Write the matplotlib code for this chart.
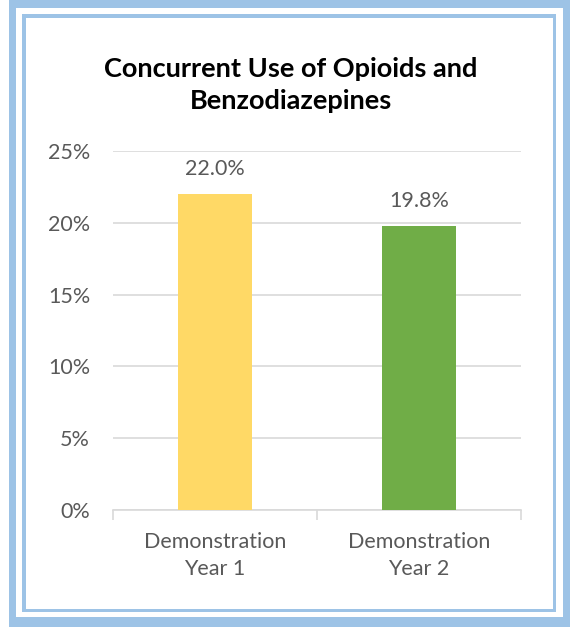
import matplotlib.pyplot as plt
from matplotlib.patches import Rectangle
from matplotlib.ticker import PercentFormatter

categories = ['Demonstration\nYear 1', 'Demonstration\nYear 2']
values = [0.220, 0.198]
labels = ['22.0%', '19.8%']
colors = ['#FFD966', '#70AD47']
yticks = [0, 0.05, 0.10, 0.15, 0.20, 0.25]

plt.rcParams['font.family'] = ['Lato', 'DejaVu Sans']
text_color = '#595959'
W, H = 570, 627

fig = plt.figure(figsize=(5.7, 6.27), dpi=100)

def px_rect(x0, y0, x1, y1, **kw):
    # rectangle given in pixel coords from top-left
    fig.patches.append(Rectangle((x0 / W, 1 - y1 / H), (x1 - x0) / W, (y1 - y0) / H,
                                 transform=fig.transFigure, zorder=-5, **kw))

blue = '#9DC3E6'
# outer thick frame
px_rect(9, 0, 570, 627, facecolor=blue, edgecolor='none')
px_rect(16, 8, 563, 617, facecolor='white', edgecolor='none')
# inner thin frame
px_rect(22, 14, 556, 612, facecolor=blue, edgecolor='none')
px_rect(26, 18, 553, 609, facecolor='white', edgecolor='none')

ax = fig.add_axes([113 / W, 1 - 510 / H, (521 - 113) / W, (510 - 151) / H])
ax.set_facecolor('none')

x = range(len(categories))
bars = ax.bar(x, values, width=0.36, color=colors, zorder=3)
for b, lab in zip(bars, labels):
    ax.annotate(lab, (b.get_x() + b.get_width() / 2, b.get_height()),
                xytext=(0, 18), textcoords='offset points', ha='center', va='center',
                fontsize=15.5, color=text_color)

ax.set_xlim(-0.5, 1.5)
ax.set_ylim(0, 0.25)
ax.set_yticks(yticks)
ax.yaxis.set_major_formatter(PercentFormatter(1.0, decimals=0))
ax.grid(axis='y', color='#D9D9D9', linewidth=1.2, zorder=0)
ax.set_xticks([-0.5, 0.5, 1.5])
ax.set_xticklabels([])
ax.set_xticks([0, 1], minor=True)
ax.set_xticklabels(categories, minor=True)
ax.tick_params(axis='x', which='major', length=7, color='#D9D9D9', width=1.2)
ax.tick_params(axis='x', which='minor', length=0, pad=16, labelsize=15.5, labelcolor=text_color)
ax.tick_params(axis='y', length=0, pad=16.5, labelsize=15.5, labelcolor=text_color)
for s in ['top', 'right', 'left']:
    ax.spines[s].set_visible(False)
ax.spines['bottom'].set_color('#D9D9D9')
ax.spines['bottom'].set_linewidth(1.2)
for t in ax.get_xticklabels(minor=True):
    t.set_linespacing(1.45)

fig.text(291 / W, 1 - 85 / H, 'Concurrent Use of Opioids and\nBenzodiazepines',
         ha='center', va='center', fontsize=19.5, fontweight='bold', color='black',
         linespacing=1.4)

fig.savefig('out.png', dpi=100)
